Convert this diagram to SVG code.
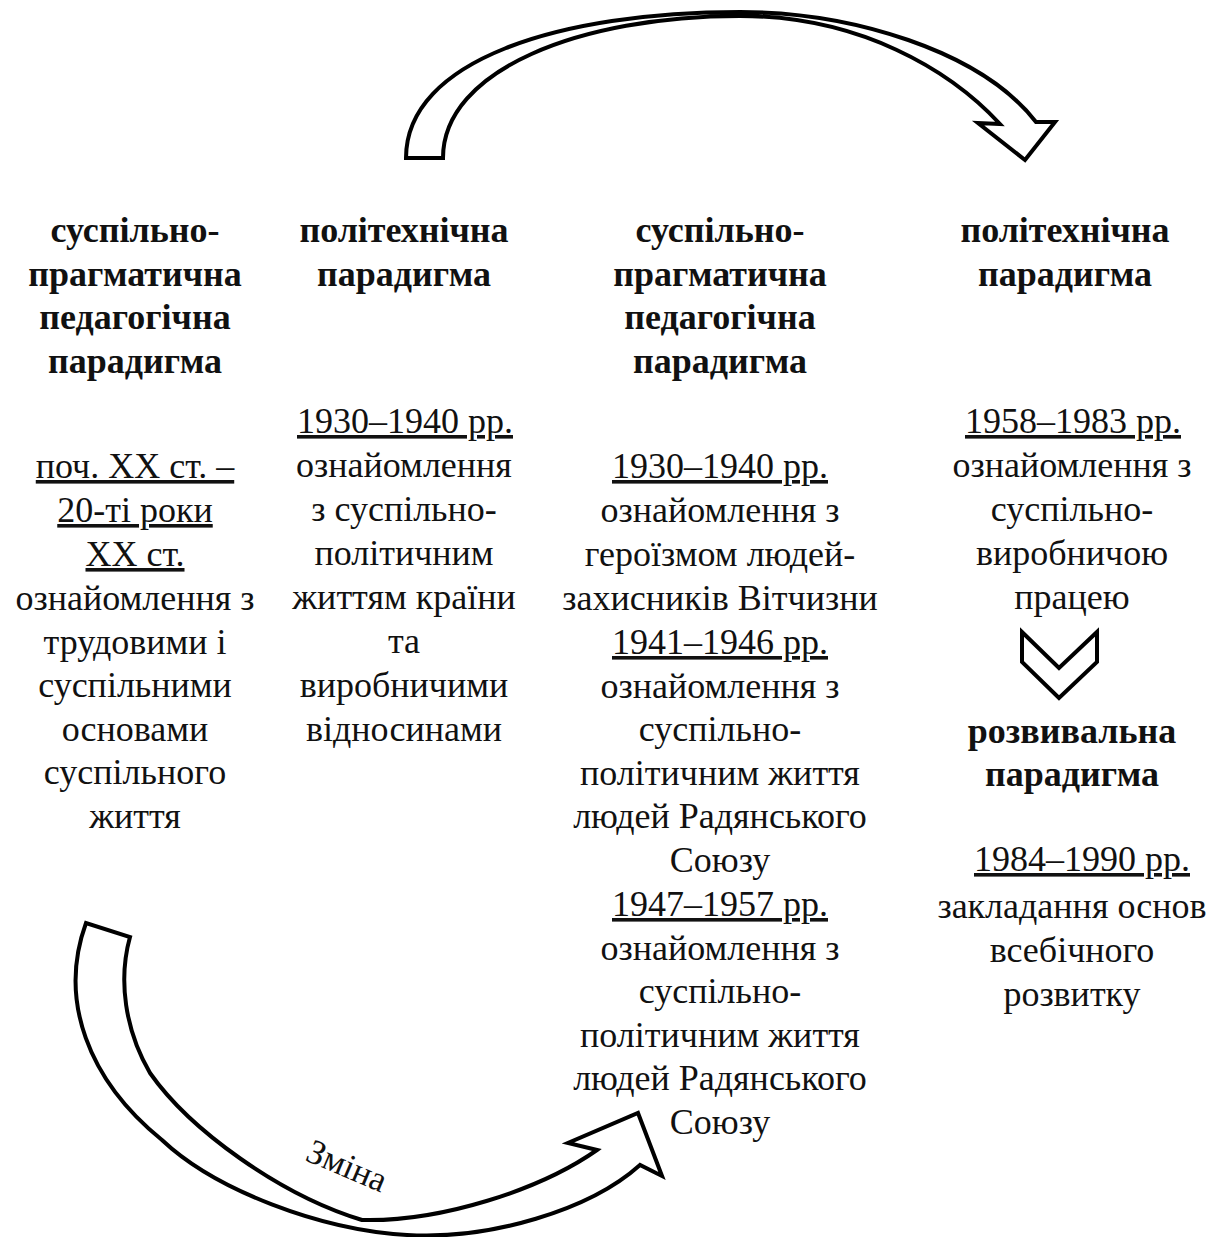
<svg xmlns="http://www.w3.org/2000/svg" width="1224" height="1237" viewBox="0 0 1224 1237">
<style>
text { font-family: "Liberation Serif", "Times New Roman", serif; font-size: 36px; fill: #111; text-anchor: middle; }
.b { font-weight: bold; }
.u { text-decoration: underline; }
.arrow { fill: #fff; stroke: #000; stroke-width: 4; stroke-linejoin: miter; }
.lbl { font-size: 35px; text-anchor: start; }
</style>
<rect width="1224" height="1237" fill="#fff"/>
<g id="connectors">
  <path id="arrow-top" class="arrow" d="M406,158 L443,158 C443,70 580,16 740,16 C860,16 950,70 1000,124 L978,123 L1025,160 L1055,122 L1036,122 C980,50 850,12 740,12 C560,12 406,60 406,158 Z"/>
  <path id="arrow-bottom" class="arrow" d="M86,923 C58,1000 88,1080 162,1140 C215,1190 320,1230 407,1235 C490,1240 590,1210 640,1165 L662,1176 L638,1113 L568,1143 L597,1150 C540,1190 440,1222 362,1220 C280,1195 190,1130 150,1073 C125,1030 118,980 130,937 Z"/>
  <text class="lbl" transform="translate(304,1160) rotate(23)">Зміна</text>
  <polygon id="chevron" class="arrow" points="1022,632 1059,668 1097,632 1097,662 1059,698 1022,662"/>
</g>
<g id="col1">
  <text class="b" x="135" y="242">суспільно-</text>
  <text class="b" x="135" y="286">прагматична</text>
  <text class="b" x="135" y="329">педагогічна</text>
  <text class="b" x="135" y="373">парадигма</text>
  <text class="u" x="135" y="478">поч. ХХ ст. –</text>
  <text class="u" x="135" y="522">20-ті роки</text>
  <text class="u" x="135" y="566">ХХ ст.</text>
  <text x="135" y="610">ознайомлення з</text>
  <text x="135" y="654">трудовими і</text>
  <text x="135" y="697">суспільними</text>
  <text x="135" y="741">основами</text>
  <text x="135" y="784">суспільного</text>
  <text x="135" y="828">життя</text>
</g>
<g id="col2">
  <text class="b" x="404" y="242">політехнічна</text>
  <text class="b" x="404" y="286">парадигма</text>
  <text class="u" x="405" y="433">1930–1940 рр.</text>
  <text x="404" y="477">ознайомлення</text>
  <text x="404" y="521">з суспільно-</text>
  <text x="404" y="565">політичним</text>
  <text x="404" y="609">життям країни</text>
  <text x="404" y="653">та</text>
  <text x="404" y="697">виробничими</text>
  <text x="404" y="741">відносинами</text>
</g>
<g id="col3">
  <text class="b" x="720" y="242">суспільно-</text>
  <text class="b" x="720" y="286">прагматична</text>
  <text class="b" x="720" y="329">педагогічна</text>
  <text class="b" x="720" y="373">парадигма</text>
  <text class="u" x="720" y="478">1930–1940 рр.</text>
  <text x="720" y="522">ознайомлення з</text>
  <text x="720" y="566">героїзмом людей-</text>
  <text x="720" y="610">захисників Вітчизни</text>
  <text class="u" x="720" y="654">1941–1946 рр.</text>
  <text x="720" y="698">ознайомлення з</text>
  <text x="720" y="741">суспільно-</text>
  <text x="720" y="785">політичним життя</text>
  <text x="720" y="828">людей Радянського</text>
  <text x="720" y="872">Союзу</text>
  <text class="u" x="720" y="916">1947–1957 рр.</text>
  <text x="720" y="960">ознайомлення з</text>
  <text x="720" y="1003">суспільно-</text>
  <text x="720" y="1047">політичним життя</text>
  <text x="720" y="1090">людей Радянського</text>
  <text x="720" y="1134">Союзу</text>
</g>
<g id="col4">
  <text class="b" x="1065" y="242">політехнічна</text>
  <text class="b" x="1065" y="286">парадигма</text>
  <text class="u" x="1073" y="433">1958–1983 рр.</text>
  <text x="1072" y="477">ознайомлення з</text>
  <text x="1072" y="521">суспільно-</text>
  <text x="1072" y="565">виробничою</text>
  <text x="1072" y="609">працею</text>
  <text class="b" x="1072" y="743">розвивальна</text>
  <text class="b" x="1072" y="786">парадигма</text>
  <text class="u" x="1082" y="871">1984–1990 рр.</text>
  <text x="1072" y="918">закладання основ</text>
  <text x="1072" y="962">всебічного</text>
  <text x="1072" y="1006">розвитку</text>
</g>
</svg>
